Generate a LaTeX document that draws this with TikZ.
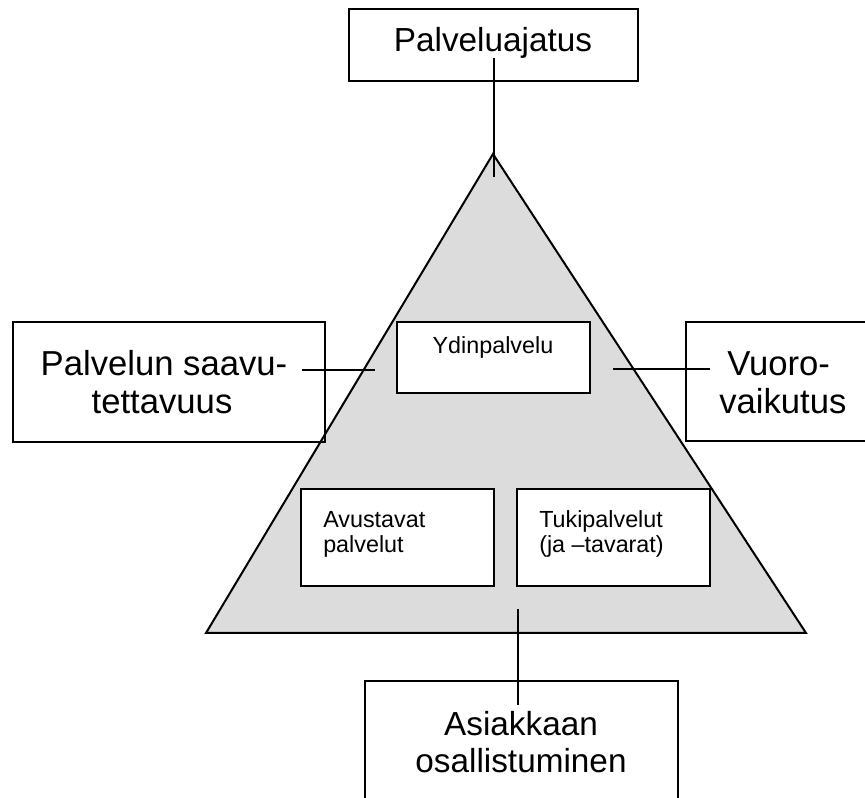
\documentclass[tikz,border=0pt]{standalone}
\usepackage{fontspec}
\setmainfont{Liberation Sans}
\definecolor{trifill}{RGB}{220,220,220}
\begin{document}
\begin{tikzpicture}[x=0.75pt,y=-0.75pt,
  box/.style={draw=black, line width=1.5pt, rectangle, inner sep=0pt},
  wbox/.style={box, fill=white},
  big/.style={font=\fontsize{25}{30}\selectfont, inner sep=0pt, anchor=base},
  bigL/.style={font=\fontsize{26}{31}\selectfont, inner sep=0pt, anchor=base},
  bigR/.style={font=\fontsize{26}{31}\selectfont, inner sep=0pt, anchor=base west},
  small/.style={font=\fontsize{17.5}{21}\selectfont, inner sep=0pt, anchor=base west},
  link/.style={line width=1.5pt}]
\useasboundingbox (0,0) rectangle (865,798);
\clip (0,0) rectangle (865,798);
% triangle
\filldraw[fill=trifill, line width=1.5pt, line join=miter]
  (493,154) coordinate (apex) -- (806,633) coordinate (rbase) -- (206,633) coordinate (lbase) -- cycle;
% boxes
\node[wbox, minimum width=289*0.75pt, minimum height=72*0.75pt] (topbox) at (493.5,45) {};
\node[box, minimum width=312*0.75pt, minimum height=120*0.75pt] (leftbox) at (169,382) {};
\node[wbox, minimum width=214*0.75pt, minimum height=119*0.75pt] (rightbox) at (793,381.5) {};
\node[wbox, minimum width=193*0.75pt, minimum height=71*0.75pt] (ydin) at (493.5,357.5) {};
\node[wbox, minimum width=193*0.75pt, minimum height=97*0.75pt] (avust) at (397.5,537.5) {};
\node[wbox, minimum width=193*0.75pt, minimum height=97*0.75pt] (tuki) at (613.5,537.5) {};
\node[wbox, minimum width=313*0.75pt, minimum height=149*0.75pt] (botbox) at (521.5,755.5) {};
% texts
\node[big] (t1) at (493,52) {Palveluajatus};
\node[bigL] (l1) at (164,376) {Palvelun saavu-};
\node[bigL] (l2) at (162,414) {tettavuus};
\node[bigR] (r1) at (727,376) {Vuoro-};
\node[bigR] (r2) at (719,414) {vaikutus};
\node[big] (b1) at (521,735) {Asiakkaan};
\node[big] (b2) at (521,773) {osallistuminen};
\node[small, anchor=base] (y1) at (493,354) {Ydinpalvelu};
\node[small] (a1) at (323,528) {Avustavat};
\node[small] (a2) at (323,553) {palvelut};
\node[small] (k1) at (539,528) {Tukipalvelut};
\node[small] (k2) at (539,553) {(ja –tavarat)};
% connector ends
\coordinate (topA) at (494,58);
\coordinate (topB) at (494,177);
\coordinate (leftA) at (302,370);
\coordinate (leftB) at (375,370);
\coordinate (rightA) at (613,369);
\coordinate (rightB) at (710,369);
\coordinate (botA) at (518,609);
\coordinate (botB) at (518,705);
\draw[link] (topA) -- (topB);
\draw[link] (leftA) -- (leftB);
\draw[link] (rightA) -- (rightB);
\draw[link] (botA) -- (botB);
\end{tikzpicture}
\end{document}
